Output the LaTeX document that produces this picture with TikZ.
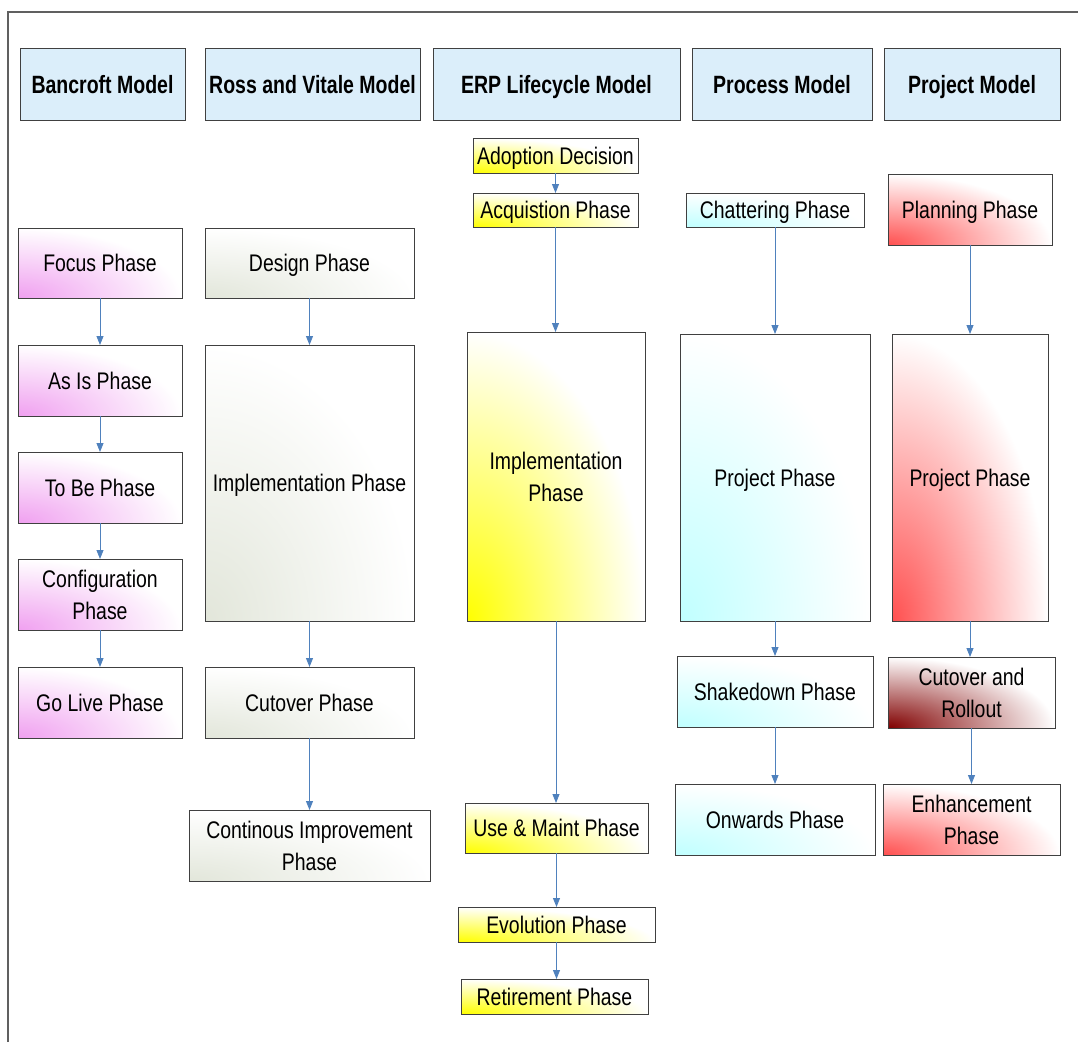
\documentclass[tikz,border=0pt]{standalone}
\usepackage{fontspec}
\setmainfont{Liberation Sans}[FakeStretch=0.81, BoldFeatures={FakeStretch=0.78}]
\usetikzlibrary{arrows.meta,calc}
\definecolor{hdrfill}{HTML}{DBEEFA}
\definecolor{pinkc}{HTML}{F0A0F0}
\definecolor{grayc}{HTML}{E2E6DA}
\definecolor{yelc}{HTML}{FFFF00}
\definecolor{cyanc}{HTML}{C0FFFF}
\definecolor{redc}{HTML}{FF5050}
\definecolor{dredc}{HTML}{800000}
\definecolor{arrc}{HTML}{4F81BD}
\definecolor{framec}{HTML}{606060}
\definecolor{boxline}{HTML}{404040}
\tikzset{
  basebox/.style={draw=boxline, line width=0.9pt, inner sep=2pt, outer sep=0pt, align=center,
    font=\fontsize{24}{32}\selectfont},
  sl/.style={text height=20pt, text depth=3pt},
  hdr/.style={basebox, fill=hdrfill, minimum height=72pt, text height=21pt, text depth=3pt,
    font=\fontsize{25}{30}\selectfont\bfseries},
  grad/.style={basebox, fill=white,
    path picture={\shade[inner color=#1, outer color=white]
      let \p1=(path picture bounding box.south west), \p2=(path picture bounding box.north east)
      in (\p1) ellipse [x radius={abs(\x2-\x1)}, y radius={abs(\y2-\y1)}];}},
  arr/.style={draw=arrc, line width=0.9pt, -{Triangle[length=9pt,width=7pt]}},
}
\begin{document}
\begin{tikzpicture}[x=1pt,y=-1pt]
\useasboundingbox (0,0) rectangle (1078,1042);
% frame
\draw[framec, line width=1.5pt] (8,1042) -- (8,12) -- (1078,12);
% headers
\node[hdr, minimum width=165pt] (h1) at (102.5,84) {Bancroft Model};
\node[hdr, minimum width=215pt] (h2) at (312.5,84) {Ross and Vitale Model};
\node[hdr, minimum width=247pt] (h3) at (556.5,84) {ERP Lifecycle Model};
\node[hdr, minimum width=180pt] (h4) at (782,84) {Process Model};
\node[hdr, minimum width=176pt] (h5) at (972,84) {Project Model};
% Bancroft
\node[grad=pinkc, sl, minimum width=164pt, minimum height=70pt] (b1) at (100,263) {Focus Phase};
\node[grad=pinkc, sl, minimum width=164pt, minimum height=71pt] (b2) at (100,380.5) {As Is Phase};
\node[grad=pinkc, sl, minimum width=164pt, minimum height=71pt] (b3) at (100,487.5) {To Be Phase};
\node[grad=pinkc, minimum width=164pt, minimum height=71pt] (b4) at (100,594.5) {Configuration\\Phase};
\node[grad=pinkc, sl, minimum width=164pt, minimum height=71pt] (b5) at (100,702.5) {Go Live Phase};
% Ross and Vitale
\node[grad=grayc, sl, minimum width=209pt, minimum height=70pt] (r1) at (309.5,263) {Design Phase};
\node[grad=grayc, sl, minimum width=209pt, minimum height=276pt] (r2) at (309.5,483) {Implementation Phase};
\node[grad=grayc, sl, minimum width=209pt, minimum height=71pt] (r3) at (309.5,702.5) {Cutover Phase};
\node[grad=grayc, minimum width=241pt, minimum height=71pt] (r4) at (309.5,845.5) {Continous Improvement\\Phase};
% ERP lifecycle
\node[grad=yelc, sl, minimum width=165pt, minimum height=35pt] (e1) at (555.5,155.5) {Adoption Decision};
\node[grad=yelc, sl, minimum width=165pt, minimum height=34pt] (e2) at (555.5,210) {Acquistion Phase};
\node[grad=yelc, minimum width=178pt, minimum height=289pt] (e3) at (556,476.5) {Implementation\\Phase};
\node[grad=yelc, sl, minimum width=183pt, minimum height=50pt] (e4) at (556.5,828) {Use \& Maint Phase};
\node[grad=yelc, sl, minimum width=197pt, minimum height=35pt] (e5) at (556.5,924.5) {Evolution Phase};
\node[grad=yelc, sl, minimum width=187pt, minimum height=35pt] (e6) at (554.5,996.5) {Retirement Phase};
% Process
\node[grad=cyanc, sl, minimum width=178pt, minimum height=34pt] (p1) at (775,210) {Chattering Phase};
\node[grad=cyanc, sl, minimum width=190pt, minimum height=287pt] (p2) at (775,477.5) {Project Phase};
\node[grad=cyanc, sl, minimum width=196pt, minimum height=71pt] (p3) at (775,691.5) {Shakedown Phase};
\node[grad=cyanc, sl, minimum width=200pt, minimum height=71pt] (p4) at (775,819.5) {Onwards Phase};
% Project
\node[grad=redc, sl, minimum width=164pt, minimum height=71pt] (j1) at (970,209.5) {Planning Phase};
\node[grad=redc, sl, minimum width=156pt, minimum height=287pt] (j2) at (970,477.5) {Project Phase};
\node[grad=dredc, minimum width=167pt, minimum height=71pt] (j3) at (971.5,692.5) {Cutover and\\Rollout};
\node[grad=redc, minimum width=177pt, minimum height=71pt] (j4) at (971.5,819.5) {Enhancement\\Phase};
% arrows
\foreach \a/\b in {b1/b2,b2/b3,b3/b4,b4/b5,r1/r2,r2/r3,r3/r4,e1/e2,e2/e3,e3/e4,e4/e5,e5/e6,p1/p2,p2/p3,p3/p4,j1/j2,j2/j3,j3/j4}
  \draw[arr] (\a.south) -- (\a.south |- \b.north);
\end{tikzpicture}
\end{document}
